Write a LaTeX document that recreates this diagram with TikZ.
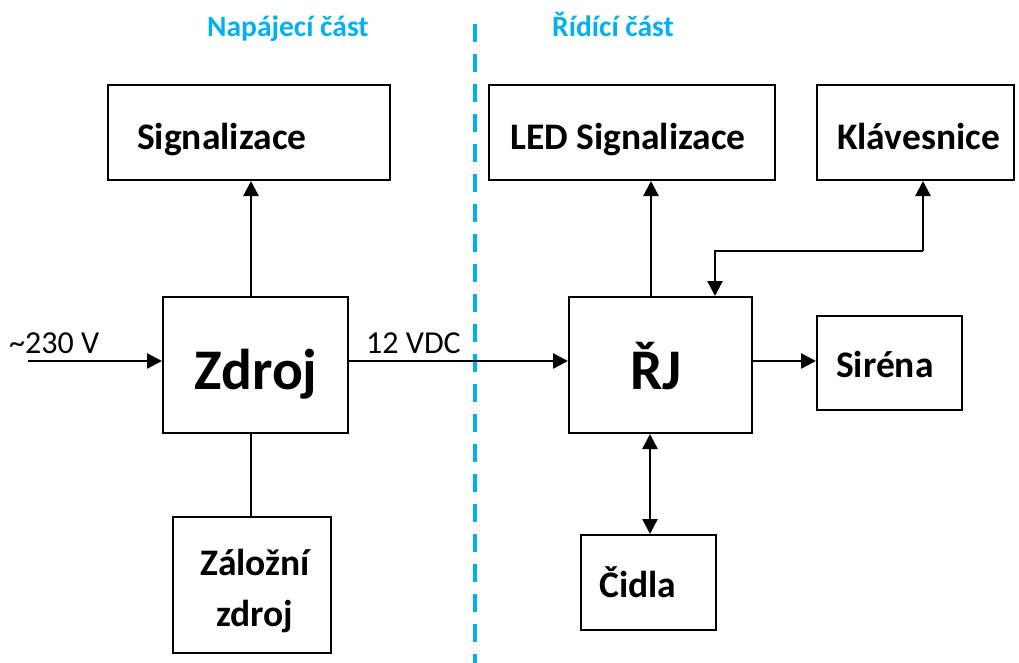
\documentclass[tikz,border=0pt]{standalone}
\usepackage{fontspec}
\setmainfont{Carlito}
\usetikzlibrary{arrows.meta}
\definecolor{skyb}{HTML}{00B0F0}
\begin{document}
\begin{tikzpicture}[x=1pt,y=-1pt,
  box/.style={draw, line width=2pt, inner sep=0pt},
  txt/.style={inner sep=0pt, anchor=base west, font=\bfseries\fontsize{37.5}{42}\selectfont},
  bigtxt/.style={inner sep=0pt, anchor=base, font=\bfseries\fontsize{57.5}{60}\selectfont},
  conn/.style={line width=2.4pt, -{Triangle[length=15pt,width=15pt]}},
  both/.style={line width=2.4pt, {Triangle[length=15pt,width=15pt]}-{Triangle[length=15pt,width=15pt]}},
  plain/.style={line width=2.4pt},
  hdr/.style={text=skyb, inner sep=0pt, anchor=base west, font=\bfseries\fontsize{29.5}{32}\selectfont},
  lbl/.style={inner sep=0pt, anchor=base west, font=\fontsize{32}{36}\selectfont}]
\useasboundingbox (0,0) rectangle (1019,663);
% boxes
\node[box, minimum width=282pt, minimum height=95pt] (sig) at (249,132.5) {};
\node[box, minimum width=185pt, minimum height=136pt] (zdroj) at (255.5,365) {};
\node[box, minimum width=158pt, minimum height=136pt] (zal) at (252,585) {};
\node[box, minimum width=286pt, minimum height=95pt] (led) at (632,132.5) {};
\node[box, minimum width=197pt, minimum height=95pt] (klav) at (915.5,132.5) {};
\node[box, minimum width=183pt, minimum height=136pt] (rj) at (660.5,365) {};
\node[box, minimum width=145pt, minimum height=94pt] (sir) at (889.5,363) {};
\node[box, minimum width=135pt, minimum height=95pt] (cid) at (648.5,582.5) {};
% texts
\node[txt] (sigT) at (137,150) {Signalizace};
\node[txt] (ledT) at (510,150) {LED Signalizace};
\node[txt] (klavT) at (837,150) {Klávesnice};
\node[bigtxt] (zdrojT) at (256,389) {Zdroj};
\node[bigtxt] (rjT) at (656,389) {ŘJ};
\node[txt, anchor=base] (zalT1) at (255,575) {Záložní};
\node[txt, anchor=base] (zalT2) at (255,626) {zdroj};
\node[txt] (cidT) at (599,597) {Čidla};
\node[txt] (sirT) at (836,377) {Siréna};
% headers
\node[hdr] (h1) at (207,37) {Napájecí část};
\node[hdr] (h2) at (552,37) {Řídící část};
% dashed separator
\coordinate (dtop) at (475,24);
\coordinate (dbot) at (475,663);
\draw[skyb, line width=3.5pt, dash pattern=on 18pt off 12pt] (dtop) -- (dbot);
% connectors
\coordinate (in) at (28,361);
\draw[conn] (in) -- (in -| zdroj.west);
\node[lbl] (v230) at (9,353) {\textasciitilde230 V};
\draw[conn] (zdroj.east |- 0,361) -- (rj.west |- 0,361);
\node[lbl] (vdc) at (366,353) {12 VDC};
\draw[conn] (zdroj.north -| 251,0) -- (sig.south -| 251,0);
\draw[plain] (zdroj.south -| 251,0) -- (zal.north -| 251,0);
\draw[conn] (rj.north -| 651,0) -- (led.south -| 651,0);
\coordinate (kb) at (923,251);
\coordinate (kr) at (715,251);
\draw[conn] (kb) -- (klav.south -| kb);
\draw[conn] (kb) -- (kr) -- (rj.north -| kr);
\draw[conn] (rj.east |- 0,361) -- (sir.west |- 0,361);
\draw[both] (rj.south -| 650,0) -- (cid.north -| 650,0);
\end{tikzpicture}
\end{document}
